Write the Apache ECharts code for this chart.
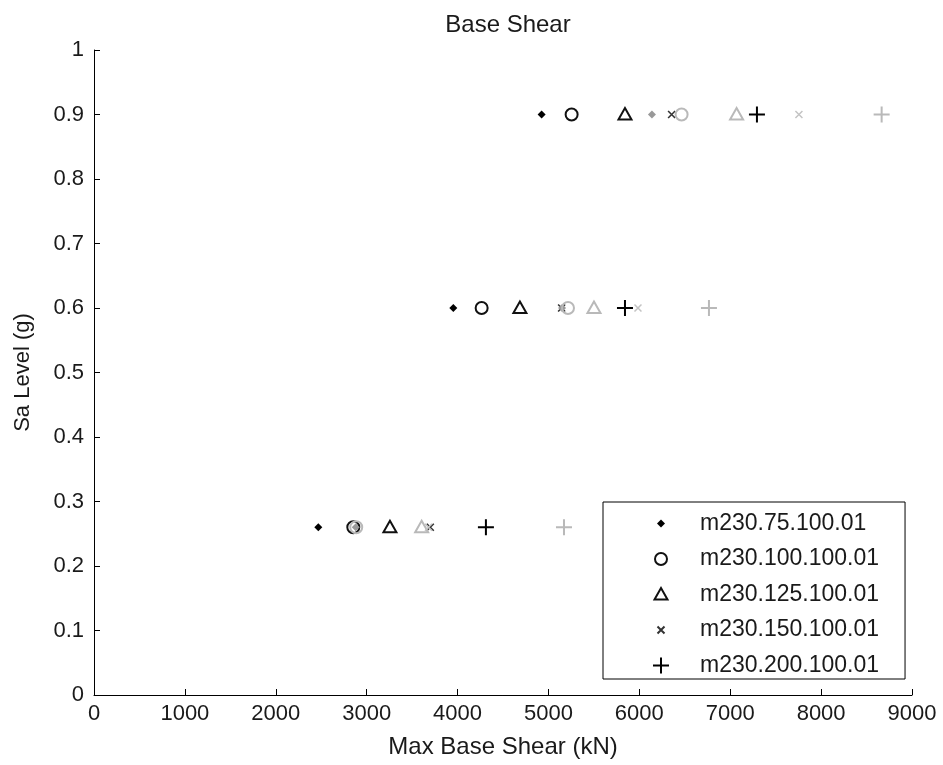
<!DOCTYPE html>
<html>
<head>
<meta charset="utf-8">
<title>Base Shear</title>
<script src="https://cdn.jsdelivr.net/npm/echarts@6/dist/echarts.min.js"></script>
<style>
  html, body { margin: 0; padding: 0; background: #fff; }
  #chart { width: 943px; height: 765px; }
</style>
</head>
<body>
<div id="chart"></div>
<script>
// Sa levels (g) and max base shear (kN)
var saLevels = [0.9, 0.6, 0.26]

var m75 = [4925, 3953, 2468]
var m100 = [5255, 4265, 2853]
var m125 = [5842, 4686, 3256]
var m150 = [6355, 5145, 3700]
var m200 = [7294, 5842, 4312]

// second (grey) set of runs, not in the legend
var m75b = [6139, 5150, 2880]
var m100b = [6465, 5215, 2885]
var m125b = [7070, 5501, 3605]
var m150b = [7756, 5985, 3680]
var m200b = [8666, 6766, 5171]

var names = ['m230.75.100.01', 'm230.100.100.01', 'm230.125.100.01', 'm230.150.100.01', 'm230.200.100.01']
var xTicks = [0, 1000, 2000, 3000, 4000, 5000, 6000, 7000, 8000, 9000]

// marker shapes inside a 20x20 box so sizes differ like matlab markers
var shapes = {
  dot: 'path://M0,0M20,20M10,6L14,10L10,14L6,10Z',
  circle: 'path://M0,0M20,20M16,10A6,6 0 1,1 4,10A6,6 0 1,1 16,10Z',
  tri: 'path://M0,0M20,20M10,3.5L16.5,15L3.5,15Z',
  cross: 'path://M0,0M20,20M6.5,6.5L13.5,13.5M13.5,6.5L6.5,13.5',
  plus: 'path://M0,0M20,20M10,2L10,18M2,10L18,10'
}

function pts(xs) {
  return xs.map(function (x, i) { return [x, saLevels[i]] })
}

function mk(name, xs, shape, color, filled, bw) {
  return {
    name: name,
    type: 'scatter',
    data: pts(xs),
    symbol: shapes[shape],
    symbolSize: 20,
    itemStyle: {
      color: filled ? color : 'rgba(0,0,0,0)',
      borderColor: color,
      borderWidth: filled ? 0 : bw,
      opacity: 1
    },
    emphasis: { disabled: true },
    silent: true
  }
}

var txt = '#1a1a1a'
var grey = '#b9b9b9'
var chart = echarts.init(document.getElementById('chart'))

var option = {
  backgroundColor: '#fff',
  animation: false,
  textStyle: { fontFamily: 'Liberation Sans, Arial, sans-serif' },
  title: {
    text: 'Base Shear',
    left: 503,
    textAlign: 'center',
    top: 8,
    textStyle: { fontSize: 24, fontWeight: 'normal', color: txt }
  },
  grid: { left: 94, right: 31, top: 50, bottom: 70 },
  legend: {
    data: names,
    orient: 'vertical',
    left: 603,
    top: 502,
    padding: [10, 26, 2, 47],
    itemGap: 12.5,
    itemWidth: 68,
    itemHeight: 20,
    borderColor: '#000',
    borderWidth: 1,
    backgroundColor: '#fff',
    selectedMode: false,
    textStyle: { fontSize: 23, color: txt }
  },
  xAxis: {
    type: 'value',
    min: 0,
    max: 9000,
    interval: 1000,
    name: 'Max Base Shear (kN)',
    nameLocation: 'middle',
    nameGap: 40,
    nameTextStyle: { fontSize: 24, color: txt },
    axisLine: { show: true, lineStyle: { color: '#000', width: 1 } },
    axisTick: { show: true, inside: true, length: 6, lineStyle: { color: '#000' } },
    axisLabel: {
      fontSize: 22, color: txt, margin: 8,
      formatter: function (v) { return xTicks.indexOf(v) >= 0 ? String(v) : '' }
    },
    splitLine: { show: false }
  },
  yAxis: {
    type: 'value',
    min: 0,
    max: 1,
    interval: 0.1,
    name: 'Sa Level (g)',
    nameLocation: 'middle',
    nameGap: 60,
    nameTextStyle: { fontSize: 22, color: txt },
    axisLine: { show: true, lineStyle: { color: '#000', width: 1 } },
    axisTick: { show: true, inside: true, length: 6, lineStyle: { color: '#000' } },
    axisLabel: {
      fontSize: 22, color: txt, margin: 10,
      formatter: function (v) { return String(Math.round(v * 10) / 10) }
    },
    splitLine: { show: false }
  },
  series: [
    mk(names[0], m75, 'dot', '#000', true, 0),
    mk(names[1], m100, 'circle', '#111', false, 2),
    mk(names[2], m125, 'tri', '#111', false, 2),
    mk(names[3], m150, 'cross', '#333', false, 1.6),
    mk(names[4], m200, 'plus', '#000', false, 2),
    mk('grey75', m75b, 'dot', '#999', true, 0),
    mk('grey100', m100b, 'circle', grey, false, 2),
    mk('grey125', m125b, 'tri', grey, false, 2),
    mk('grey150', m150b, 'cross', '#c4c4c4', false, 1.5),
    mk('grey200', m200b, 'plus', grey, false, 2)
  ]
}
chart.setOption(option)
</script>
</body>
</html>
